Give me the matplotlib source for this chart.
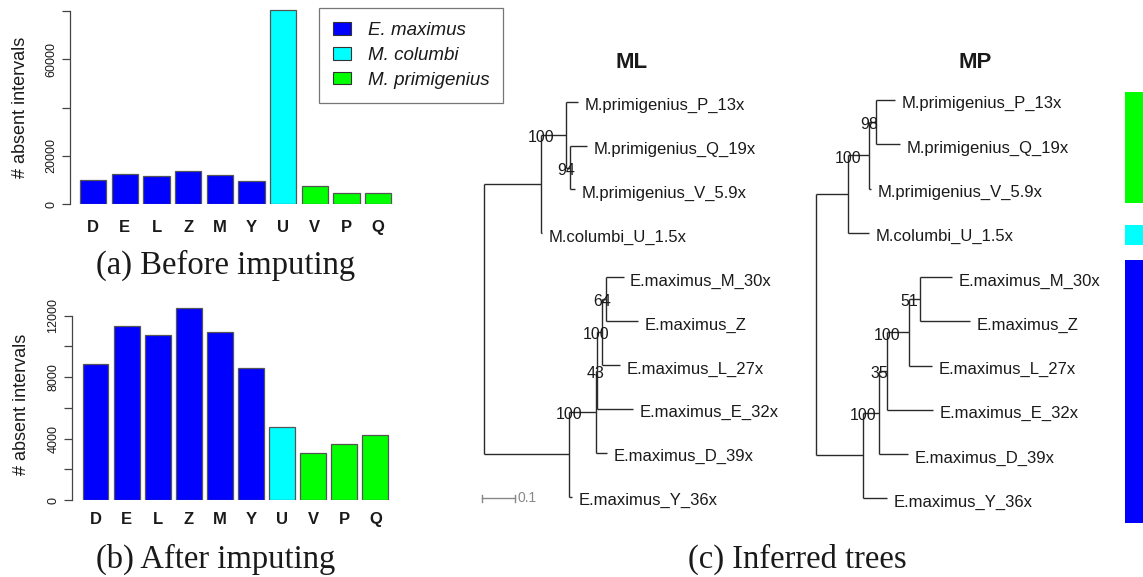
import re
import matplotlib
matplotlib.use("Agg")
import matplotlib.pyplot as plt
from matplotlib.patches import Patch

# ---------------- data ----------------
samples = ["D", "E", "L", "Z", "M", "Y", "U", "V", "P", "Q"]
sample_species = [0, 0, 0, 0, 0, 0, 1, 2, 2, 2]
species_names = ["E. maximus", "M. columbi", "M. primigenius"]
species_colors = ["#0000FF", "#00FFFF", "#00FF00"]

absent_before = [9940, 12400, 11700, 13500, 12100, 9400, 80600, 7580, 4680, 4700]
absent_after = [8860, 11340, 10770, 12490, 10925, 8600, 4775, 3040, 3670, 4250]

yticks_before = [0, 20000, 40000, 60000, 80000]
yticklabels_before = ["0", "20000", "", "60000", ""]
yticks_after = [0, 2000, 4000, 6000, 8000, 10000, 12000]
yticklabels_after = ["0", "", "4000", "", "8000", "", "12000"]

ml_newick = ("(((M.primigenius_P_13x:0.0376,(M.primigenius_Q_19x:0.0511,"
             "M.primigenius_V_5.9x:0.0156)94:0.0122)100:0.0774,M.columbi_U_1.5x:0.005):0.1725,"
             "(((((E.maximus_M_30x:0.055,E.maximus_Z:0.1006)64:0.0116,E.maximus_L_27x:0.056)100:0.0159,"
             "E.maximus_E_32x:0.1125)43:0.0025,E.maximus_D_39x:0.0336)100:0.0807,"
             "E.maximus_Y_36x:0.0073):0.26);")
mp_newick = ("((((M.primigenius_P_13x:0.059,M.primigenius_Q_19x:0.0743)98:0.0196,"
             "M.primigenius_V_5.9x:0.0046)100:0.066,M.columbi_U_1.5x:0.065):0.0979,"
             "(((((E.maximus_M_30x:0.097,E.maximus_Z:0.152)51:0.0327,E.maximus_L_27x:0.0685)100:0.0673,"
             "E.maximus_E_32x:0.1407)35:0.0254,E.maximus_D_39x:0.0896)100:0.048,"
             "E.maximus_Y_36x:0.0716):0.1456);")
tree_titles = ["ML", "MP"]
scale_bar_length = 0.1

clade_bar_species = [2, 1, 0]
clade_bar_top = [-0.18, 2.82, 3.61]
clade_bar_bottom = [2.33, 3.28, 9.56]

captions = ["(a) Before imputing", "(b) After imputing", "(c) Inferred trees"]

# ---------------- style ----------------
SANS = "Liberation Sans"
SERIF = "Liberation Serif"
plt.rcParams["font.family"] = [SANS, "DejaVu Sans"]
LINE = "#2a2a2a"
TEXT = "#1a1a1a"
AXC = "#444444"

W, H = 1143, 577
fig = plt.figure(figsize=(W / 100, H / 100), dpi=100)
fig.patch.set_facecolor("white")


def add_ax(l, t, r, b):
    ax = fig.add_axes([l / W, 1 - b / H, (r - l) / W, (b - t) / H])
    ax.set_facecolor("none")
    return ax


def fx(px):
    return px / W


def fy(py):
    return 1 - py / H


# ---------------- bar panels ----------------
def bar_panel(ax, values, yticks, yticklabels, axis_px, bar0_px, pitch_px, right_px,
              zero_px, top_px, ref_val, ref_px, xlab_pad):
    unit = pitch_px / 1.2
    x_left = 0.2 - (bar0_px - axis_px) / unit
    ax.set_xlim(x_left, x_left + (right_px - axis_px) / unit)
    per_px = ref_val / (zero_px - ref_px)
    ax.set_ylim(0, (zero_px - top_px) * per_px)
    centers = [0.7 + 1.2 * i for i in range(len(values))]
    colors = [species_colors[s] for s in sample_species]
    ax.bar(centers, values, width=1.0, color=colors, edgecolor="#555555", linewidth=0.9)
    for s in ["top", "right", "bottom"]:
        ax.spines[s].set_visible(False)
    ax.spines["left"].set_bounds(yticks[0], yticks[-1])
    ax.spines["left"].set_color(AXC)
    ax.spines["left"].set_linewidth(0.9)
    ax.set_yticks(yticks)
    ax.set_yticklabels(yticklabels, rotation=90, va="center", ha="right",
                       fontsize=9, color=TEXT)
    ax.tick_params(axis="y", length=5.8, width=0.9, color=AXC, pad=3.4)
    ax.set_xticks(centers)
    ax.set_xticklabels(samples, fontsize=12, fontweight="bold", color=TEXT)
    ax.tick_params(axis="x", length=0, pad=xlab_pad)


ax_a = add_ax(70, 4, 400, 204)
bar_panel(ax_a, absent_before, yticks_before, yticklabels_before,
          axis_px=70, bar0_px=80, pitch_px=31.67, right_px=400,
          zero_px=204, top_px=4, ref_val=80000, ref_px=11, xlab_pad=11.5)

ax_b = add_ax(72, 300, 400, 500)
bar_panel(ax_b, absent_after, yticks_after, yticklabels_after,
          axis_px=72, bar0_px=82.5, pitch_px=31.1, right_px=400,
          zero_px=500, top_px=300, ref_val=12000, ref_px=315.7, xlab_pad=8.4)

fig.text(fx(20.5), fy(107), "# absent intervals", rotation=90, ha="center", va="center",
         fontsize=13, color=TEXT)
fig.text(fx(21.5), fy(404), "# absent intervals", rotation=90, ha="center", va="center",
         fontsize=13, color=TEXT)

handles = [Patch(facecolor=c, edgecolor="#333333", linewidth=0.8) for c in species_colors]
leg = fig.legend(handles, species_names, loc="upper left",
                 bbox_to_anchor=(fx(319), fy(8)), bbox_transform=fig.transFigure,
                 prop={"family": SANS, "style": "italic", "size": 13.5},
                 frameon=True, fancybox=False, borderpad=0.75, borderaxespad=0,
                 handlelength=0.95, handleheight=0.65, handletextpad=0.9,
                 labelspacing=0.42)
leg.get_frame().set_edgecolor("#555555")
leg.get_frame().set_linewidth(0.9)
for t in leg.get_texts():
    t.set_color(TEXT)


# ---------------- trees ----------------
def parse_newick(s):
    s = s.strip().rstrip(";")
    pos = 0

    def node():
        nonlocal pos
        n = {"children": [], "name": "", "length": 0.0, "support": None}
        if s[pos] == "(":
            pos += 1
            while True:
                n["children"].append(node())
                if s[pos] == ",":
                    pos += 1
                    continue
                pos += 1
                break
        lab = re.match(r"[^:,()]*", s[pos:]).group(0)
        pos += len(lab)
        if n["children"]:
            n["support"] = int(lab) if lab else None
        else:
            n["name"] = lab
        if pos < len(s) and s[pos] == ":":
            pos += 1
            num = re.match(r"[0-9.eE+-]+", s[pos:]).group(0)
            pos += len(num)
            n["length"] = float(num)
        return n

    return node()


def layout_tree(root):
    leaves = []

    def rec(n, x):
        n["x"] = x
        if not n["children"]:
            n["y"] = float(len(leaves))
            leaves.append(n)
        else:
            for c in n["children"]:
                rec(c, x + c["length"])
            n["y"] = (n["children"][0]["y"] + n["children"][-1]["y"]) / 2
    rec(root, 0.0)
    return leaves


def draw_tree(ax, root):
    kw = dict(color=LINE, lw=1.0, solid_capstyle="butt", clip_on=False)

    def rec(n, parent):
        if parent is not None:
            ax.plot([parent["x"], n["x"]], [n["y"], n["y"]], **kw)
        if n["children"]:
            ys = [c["y"] for c in n["children"]]
            ax.plot([n["x"], n["x"]], [min(ys), max(ys)], **kw)
            for c in n["children"]:
                rec(c, n)
            if n["support"] is not None and parent is not None:
                ax.annotate(str(n["support"]), (parent["x"], n["y"]), xytext=(0, -5.2),
                            textcoords="offset points", ha="center", va="baseline",
                            fontsize=11.5, color=TEXT, annotation_clip=False)
        else:
            ax.annotate(n["name"], (n["x"], n["y"]), xytext=(4.75, -6),
                        textcoords="offset points", ha="left", va="baseline",
                        fontsize=12, color=TEXT, annotation_clip=False)
    rec(root, None)


def tree_axes(l, t, r, b, root_px, leaf0_px, leaf_dy_px, px_per_unit=327.0):
    ax = add_ax(l, t, r, b)
    ax.set_xlim((l - root_px) / px_per_unit, (r - root_px) / px_per_unit)
    ax.set_ylim((b - leaf0_px) / leaf_dy_px, (t - leaf0_px) / leaf_dy_px)
    ax.axis("off")
    return ax


ax_ml = tree_axes(440, 30, 790, 545, root_px=484.3, leaf0_px=101.7, leaf_dy_px=43.89)
ml_root = parse_newick(ml_newick)
ml_leaves = layout_tree(ml_root)
draw_tree(ax_ml, ml_root)

ax_mp = tree_axes(795, 30, 1120, 545, root_px=815.7, leaf0_px=100.0, leaf_dy_px=44.26)
mp_root = parse_newick(mp_newick)
mp_leaves = layout_tree(mp_root)
draw_tree(ax_mp, mp_root)

# scale bar (ML)
sb_x = -0.006
sb_y = len(ml_leaves) - 1 + 0.03
ax_ml.plot([sb_x, sb_x + scale_bar_length], [sb_y, sb_y], color="#888888", lw=1.0, clip_on=False)
for xx in (sb_x, sb_x + scale_bar_length):
    ax_ml.plot([xx, xx], [sb_y - 0.08, sb_y + 0.08], color="#888888", lw=1.0, clip_on=False)
ax_ml.annotate(str(scale_bar_length), (sb_x + scale_bar_length, sb_y), xytext=(1.5, 0),
               textcoords="offset points", ha="left", va="center", fontsize=10,
               color="#888888", annotation_clip=False)

fig.text(fx(632), fy(63), tree_titles[0], ha="center", va="center", fontsize=16,
         fontweight="bold", color=TEXT)
fig.text(fx(975), fy(63), tree_titles[1], ha="center", va="center", fontsize=16,
         fontweight="bold", color=TEXT)

# clade colour bars
ax_cb = add_ax(1125, 30, 1143, 545)
ax_cb.set_xlim(0, 1)
ax_cb.set_ylim((545 - 100.0) / 44.26, (30 - 100.0) / 44.26)
ax_cb.axis("off")
ax_cb.bar([0.5] * len(clade_bar_species),
          [b - t for t, b in zip(clade_bar_top, clade_bar_bottom)],
          bottom=clade_bar_top, width=1.0,
          color=[species_colors[s] for s in clade_bar_species], linewidth=0)

# captions
cap_kw = dict(family=[SERIF, "DejaVu Serif"], fontsize=23.5, color=TEXT, va="baseline")
fig.text(fx(96), fy(273.5), captions[0], ha="left", **cap_kw)
fig.text(fx(96), fy(568), captions[1], ha="left", **cap_kw)
fig.text(fx(797), fy(568), captions[2], ha="center", **cap_kw)

fig.savefig("out.png", dpi=100, facecolor="white")
